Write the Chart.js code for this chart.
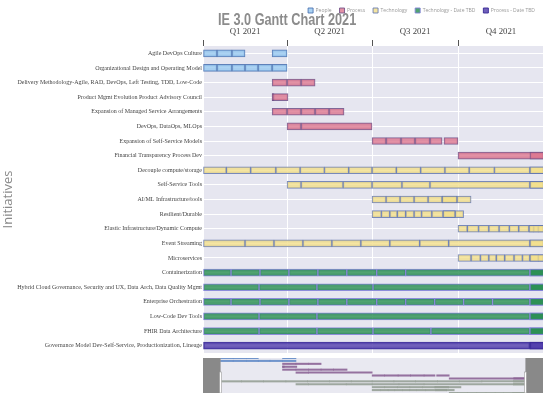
<!DOCTYPE html>
<html><head><meta charset="utf-8">
<script src="https://cdn.jsdelivr.net/npm/chart.js@4.4.1/dist/chart.umd.min.js"></script>
<style>html,body{margin:0;padding:0;background:#fff;}#wrap{position:relative;width:552px;height:396px;overflow:hidden;}canvas{position:absolute;left:0;}</style>
</head><body><div id="wrap"><canvas id="main" width="552" height="396" style="top:0"></canvas><canvas id="slider" width="552" height="35" style="top:358px"></canvas></div>
<script>
const chartTitle = 'IE 3.0 Gantt Chart 2021';
const yTitle = 'Initiatives';
const quarterLabels = ['Q1 2021', 'Q2 2021', 'Q3 2021', 'Q4 2021'];
const quarterStarts = [0, 90, 181, 273];      // day of year 2021
const quarterMids = [45, 135.5, 227, 319];
const categories = ['People', 'Process', 'Technology', 'Technology - Date TBD', 'Process - Date TBD'];

const rows = [
  'Agile DevOps Culture',
  'Organizational Design and Operating Model',
  'Delivery Methodology-Agile, RAD, DevOps, Left Testing, TDD, Low-Code',
  'Product Mgmt Evolution Product Advisory Council',
  'Expansion of Managed Service Arrangements',
  'DevOps, DataOps, MLOps',
  'Expansion of Self-Service Models',
  'Financial Transparency Process Dev',
  'Decouple compute/storage',
  'Self-Service Tools',
  'AI/ML Infrastructure/tools',
  'Resilient/Durable',
  'Elastic Infrastructure/Dynamic Compute',
  'Event Streaming',
  'Microservices',
  'Containerization',
  'Hybrid Cloud Governance, Security and UX, Data Arch, Data Quality Mgmt',
  'Enterprise Orchestration',
  'Low-Code Dev Tools',
  'FHIR Data Architecture',
  'Governance Model Dev-Self-Service, Productionization, Lineage'
];
const rowCategory = [0,0,1,1,1,1,1,1,2,2,2,2,2,2,2,3,3,3,3,3,4];

// task segments per initiative: [start day, end day]
const agile = [[0,15],[15,31],[31,45],[74,90]];
const orgDesign = [[0,15],[15,31],[31,45],[45,59],[59,74],[74,90]];
const delivery = [[74,90],[90,105],[105,120]];
const productMgmt = [[74,91],[74,76]];
const managedService = [[74,90],[90,105],[105,120],[120,135],[135,151]];
const devOps = [[90,105],[105,181]];
const selfServiceModels = [[181,196],[196,212],[212,227],[227,243],[243,256],[258,273]];
const financial = [[273,365],[350,365]];
const decouple = [[0,25],[25,51],[51,78],[78,104],[104,130],[130,156],[156,181],[181,207],[207,233],[233,259],[259,285],[285,312],[312,350],[350,365],[350,365]];
const selfServiceTools = [[90,105],[105,150],[150,181],[181,213],[213,243],[243,350],[350,365],[350,365]];
const aiMl = [[181,196],[196,211],[211,226],[226,241],[241,256],[256,272],[256,272],[272,287]];
const resilient = [[181,191],[191,200],[200,208],[208,217],[217,226],[226,234],[234,245],[245,257],[257,270],[257,270],[270,279]];
const elastic = [[273,283],[283,295],[295,306],[306,317],[317,328],[328,338],[338,349],[349,354],[354,359],[359,365],[349,365]];
const eventStreaming = [[0,45],[45,76],[76,107],[107,138],[138,169],[169,200],[200,232],[232,263],[263,350],[350,365],[350,365]];
const microservices = [[273,287],[287,297],[297,306],[306,314],[314,323],[323,333],[333,342],[342,350],[350,359],[359,365],[350,365]];
const containerization = [[0,30],[30,61],[61,92],[92,123],[123,154],[154,186],[186,217],[217,350],[350,365],[350,365]];
const hybridCloud = [[0,60],[60,122],[122,182],[182,350],[350,365],[350,365]];
const enterpriseOrch = [[0,30],[30,61],[61,92],[92,123],[123,154],[154,186],[186,217],[217,248],[248,279],[279,310],[310,350],[350,365],[350,365]];
const lowCode = [[0,60],[60,122],[122,350],[350,365],[350,365]];
const fhir = [[0,60],[60,122],[122,182],[182,244],[244,350],[350,365],[350,365]];
const governance = [[0,350],[350,365],[350,365]];

const rowSegments = [agile, orgDesign, delivery, productMgmt, managedService, devOps, selfServiceModels, financial,
  decouple, selfServiceTools, aiMl, resilient, elastic, eventStreaming, microservices,
  containerization, hybridCloud, enterpriseOrch, lowCode, fhir, governance];

const fills = ['rgba(150,200,240,0.8)','rgba(220,118,142,0.8)','rgba(242,222,138,0.8)','rgba(36,140,78,0.8)','rgba(78,58,170,0.8)'];
const borders = ['rgba(70,110,175,0.85)','rgba(110,80,135,0.85)','rgba(100,120,175,0.85)','rgba(130,130,215,0.9)','rgba(55,40,150,0.9)'];
const miniFills = ['rgba(100,140,200,0.9)','rgba(140,100,150,0.9)','rgba(150,160,150,0.9)','rgba(80,140,110,0.9)','rgba(90,70,170,0.9)'];

function buildData(c) {
  const out = [];
  rows.forEach((r, i) => {
    if (rowCategory[i] === c) rowSegments[i].forEach(s => out.push({ y: r, x: s }));
  });
  return out;
}

const bgPlugin = {
  id: 'plotBg',
  beforeDraw(chart, args, opts) {
    const a = chart.chartArea, ctx = chart.ctx;
    ctx.save(); ctx.fillStyle = opts.color; ctx.fillRect(a.left, a.top, a.right - a.left, a.bottom - a.top); ctx.restore();
  }
};
const titlePlugin = {
  id: 'bigTitle',
  afterDraw(chart) {
    const ctx = chart.ctx;
    ctx.save();
    ctx.translate(chart.chartArea.left + 15, 25);
    ctx.scale(1, 1.3);
    ctx.font = 'bold 12.7px "Liberation Sans", Arial, sans-serif';
    ctx.fillStyle = '#8c8c8c';
    ctx.textBaseline = 'alphabetic';
    ctx.fillText(chartTitle, 0, 0);
    ctx.restore();
  }
};

new Chart(document.getElementById('main'), {
  type: 'bar',
  data: {
    labels: rows,
    datasets: categories.map((name, c) => ({
      label: name,
      data: buildData(c),
      backgroundColor: fills[c],
      borderColor: borders[c],
      borderWidth: 1,
      borderSkipped: false,
      barThickness: 7,
      grouped: false
    }))
  },
  options: {
    indexAxis: 'y',
    responsive: false,
    animation: false,
    devicePixelRatio: 1,
    layout: { padding: { left: 0, right: 9, top: 0, bottom: 43 } },
    scales: {
      x: {
        type: 'linear', position: 'top', min: 0, max: 364, weight: 1,
        afterBuildTicks: s => { s.ticks = quarterStarts.map(v => ({ value: v })); },
        ticks: { display: false },
        grid: { color: '#ffffff', lineWidth: 1, tickColor: '#555', tickLength: 6, drawTicks: true },
        border: { display: false }
      },
      xq: {
        type: 'linear', position: 'top', min: 0, max: 364, weight: 2,
        afterBuildTicks: s => { s.ticks = quarterMids.map(v => ({ value: v })); },
        afterFit: s => { const lh = s.chart.legend ? s.chart.legend.height : 14; s.height = 40 - lh; },
        ticks: { callback: (v, i) => quarterLabels[i], font: { family: '"Liberation Serif", "Times New Roman", serif', size: 8.8 }, color: '#444', padding: 3.5, maxRotation: 0 },
        grid: { display: false, drawTicks: false },
        border: { display: false }
      },
      y: {
        type: 'category',
        afterFit: s => { s.width = 203; },
        ticks: { autoSkip: false, font: { family: '"Liberation Serif", "Times New Roman", serif', size: 6.0 }, color: '#444', padding: 1 },
        grid: { offset: false, color: '#ffffff', lineWidth: 1, drawTicks: false },
        border: { display: false },
        title: { display: true, text: yTitle, font: { family: '"Open Sans", Arial, sans-serif', size: 13 }, color: '#8a8a8a', padding: { top: 0, bottom: 0 } }
      }
    },
    plugins: {
      plotBg: { color: '#e6e6f0' },
      legend: {
        position: 'top', align: 'end',
        labels: { boxWidth: 5, boxHeight: 5, padding: 8, font: { family: '"Open Sans", Arial, sans-serif', size: 5 }, color: '#999' }
      },
      title: { display: false },
      tooltip: { enabled: false }
    }
  },
  plugins: [bgPlugin, titlePlugin]
});

// range slider below the plot (same data, full extent)
const sliderRange = [-21, 385];
const visibleRange = [0, 364];
const sliderPlugin = {
  id: 'sliderMask',
  afterDraw(chart) {
    const a = chart.chartArea, ctx = chart.ctx, xs = chart.scales.x;
    const l = xs.getPixelForValue(visibleRange[0]), r = xs.getPixelForValue(visibleRange[1]);
    ctx.save();
    ctx.fillStyle = 'rgba(128,128,128,0.92)';
    ctx.fillRect(a.left, a.top, l - a.left, a.bottom - a.top);
    ctx.fillRect(r, a.top, a.right - r, a.bottom - a.top);
    ctx.fillStyle = '#fff'; ctx.strokeStyle = '#999'; ctx.lineWidth = 0.6;
    [l, r].forEach(px => { ctx.fillRect(px - 1, a.top + 14, 2, a.bottom - a.top - 14); ctx.strokeRect(px - 1, a.top + 14, 2, a.bottom - a.top - 14); });
    ctx.restore();
  }
};
new Chart(document.getElementById('slider'), {
  type: 'bar',
  data: {
    labels: rows,
    datasets: categories.map((name, c) => ({
      label: name,
      data: buildData(c),
      backgroundColor: miniFills[c],
      borderWidth: 0,
      barThickness: 1.4,
      grouped: false
    }))
  },
  options: {
    indexAxis: 'y',
    responsive: false,
    animation: false,
    devicePixelRatio: 1,
    layout: { padding: { left: 203, right: 9, top: 0, bottom: 0 } },
    scales: {
      x: { type: 'linear', display: false, min: sliderRange[0], max: sliderRange[1] },
      y: { type: 'category', display: false, min: 0, max: 12, offset: false, grid: { offset: false } }
    },
    plugins: { plotBg: { color: '#e9e9f1' }, legend: { display: false }, title: { display: false }, tooltip: { enabled: false } }
  },
  plugins: [bgPlugin, sliderPlugin]
});
</script></body></html>
